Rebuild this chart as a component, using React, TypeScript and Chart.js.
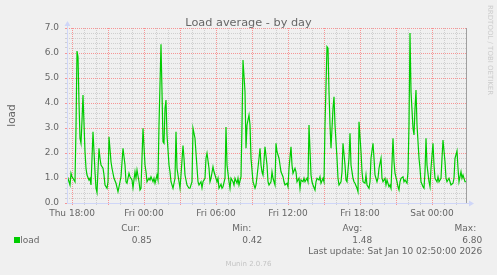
import React, { useEffect, useRef } from 'react';
import { Chart, registerables } from 'chart.js';

Chart.register(...registerables);

// Time in minutes since Thu 00:00 (5-minute samples)
const MINUTES = [
  1055, 1060, 1065, 1070, 1075, 1080, 1085, 1095, 1100, 1105,
  1110, 1115, 1120, 1125, 1130, 1135, 1145, 1150, 1155, 1165,
  1170, 1175, 1185, 1195, 1200, 1205, 1215, 1220, 1225, 1235,
  1240, 1245, 1255, 1260, 1265, 1275, 1280, 1290, 1300, 1310,
  1320, 1325, 1335, 1345, 1350, 1355, 1365,
  1370, 1380, 1385, 1395, 1400, 1405, 1415, 1420, 1425, 1435,
  1445, 1450, 1455, 1465, 1470, 1475, 1485, 1490, 1495, 1505,
  1510, 1515, 1525, 1530, 1535, 1540, 1545, 1550, 1555, 1565,
  1570, 1575, 1585, 1595, 1600, 1605, 1615, 1620, 1625, 1635,
  1640, 1645, 1655, 1665, 1670, 1680, 1685, 1695,
  1700, 1710, 1715, 1725, 1730, 1735, 1745, 1750, 1755, 1765,
  1770, 1775, 1785, 1790, 1795, 1805, 1810, 1815, 1825, 1830,
  1835, 1845, 1850, 1855, 1865, 1870, 1875, 1885, 1890, 1895,
  1905, 1910, 1915, 1925, 1930, 1935, 1945, 1950, 1955, 1965,
  1970, 1975, 1985, 1995, 2000, 2005, 2015, 2020, 2025,
  2030, 2035, 2045, 2055, 2060, 2065, 2075, 2080, 2085, 2095,
  2100, 2105, 2115, 2120, 2125, 2135, 2140, 2145, 2155, 2160,
  2165, 2175, 2180, 2185, 2195, 2200, 2205, 2215, 2220, 2225,
  2235, 2240, 2245, 2255, 2260, 2265, 2275, 2280, 2285, 2295,
  2300, 2305, 2315, 2320, 2325, 2335, 2340, 2345, 2355,
  2360, 2365, 2370, 2375, 2385, 2390, 2395, 2405, 2410, 2415,
  2425, 2430, 2435, 2445, 2450, 2455, 2465, 2470, 2475, 2485,
  2490, 2495, 2505, 2510, 2515, 2525, 2530, 2535, 2545, 2550,
  2555, 2565, 2570, 2575, 2585, 2590, 2595, 2605, 2610, 2615,
  2625, 2630, 2635, 2645, 2650, 2655, 2665, 2670, 2675, 2685,
  2690, 2695, 2705, 2710, 2715, 2720, 2725, 2735, 2740, 2745,
  2755, 2760, 2765, 2770, 2775, 2785, 2790, 2795, 2800, 2805,
  2815, 2820, 2825, 2835, 2840, 2845, 2850, 2855, 2865, 2870,
  2875, 2885, 2890, 2895, 2905, 2910, 2915, 2925, 2930, 2935,
  2945, 2950, 2955, 2965, 2970, 2975, 2985, 2990, 2995, 3005,
  3010, 3015, 3025, 3030, 3035, 3045, 3050,
];

const LOAD = [
  0.92, 0.99, 0.85, 0.72, 1.19, 1.05, 0.99, 0.85, 3.0, 6.08,
  5.85, 4.0, 2.59, 2.39, 3.3, 4.32, 2.05, 1.39, 1.12, 0.92,
  0.99, 0.72, 2.85, 1.25, 0.59, 0.42, 2.19, 1.79, 1.52, 1.39,
  1.12, 0.72, 0.59, 0.85, 2.65, 1.65, 1.39, 0.99, 0.79, 0.45,
  0.85, 1.05, 2.19, 1.52, 0.85, 0.79, 1.19,
  1.05, 0.92, 0.61, 1.25, 0.99, 1.32, 0.85, 0.52, 0.59, 2.99,
  1.52, 1.25, 0.85, 0.99, 0.92, 1.05, 0.85, 0.99, 0.79, 1.12,
  0.92, 3.12, 6.35, 4.45, 2.45, 2.39, 3.79, 4.12, 2.72, 1.52,
  1.25, 0.85, 0.59, 0.99, 2.85, 1.39, 0.85, 0.59, 1.12, 2.3,
  1.79, 1.12, 0.72, 0.59, 0.59, 0.85, 2.99, 2.59,
  2.0, 0.85, 0.72, 0.85, 0.61, 0.85, 0.99, 1.79, 1.99, 1.39,
  0.85, 0.99, 1.45, 1.25, 1.12, 0.85, 0.99, 0.59, 0.75, 0.59,
  0.65, 0.99, 3.04, 1.52, 0.85, 0.59, 0.99, 0.85, 0.72, 0.99,
  0.79, 0.99, 0.72, 1.05, 3.12, 5.72, 4.45, 2.19, 3.12, 3.52,
  3.12, 1.79, 0.85, 0.59, 0.72, 1.05, 1.79, 2.19, 1.52,
  1.25, 1.12, 2.25, 1.52, 0.85, 0.72, 0.85, 1.25, 0.99, 0.72,
  2.39, 2.05, 1.79, 1.52, 1.25, 1.05, 0.85, 0.72, 0.79, 0.65,
  1.39, 2.25, 1.52, 1.19, 1.39, 1.25, 0.85, 0.99, 0.59, 0.92,
  0.85, 0.99, 0.85, 0.99, 0.85, 3.12, 1.12, 0.85, 0.72, 0.52,
  0.85, 0.99, 0.92, 1.05, 0.79, 0.99, 0.85, 3.12, 6.25,
  6.19, 4.45, 3.12, 2.19, 3.79, 4.25, 3.12, 1.79, 0.99, 0.72,
  0.85, 1.25, 2.39, 1.52, 0.92, 0.85, 1.79, 2.79, 1.52, 0.99,
  0.85, 0.79, 0.59, 0.45, 3.25, 2.05, 1.25, 0.85, 0.79, 1.12,
  0.72, 0.59, 0.85, 1.79, 2.39, 1.79, 1.12, 0.85, 0.99, 1.39,
  1.79, 0.99, 0.85, 0.99, 0.72, 0.92, 0.65, 0.72, 0.59, 2.59,
  1.65, 1.19, 0.85, 0.65, 0.52, 0.85, 0.99, 1.05, 0.85, 0.92,
  0.79, 1.25, 3.12, 6.80, 4.45, 2.99, 2.72, 3.79, 4.52, 3.12,
  1.79, 1.39, 0.85, 0.65, 0.59, 1.25, 2.59, 1.52, 0.85, 0.65,
  1.39, 2.39, 1.52, 0.99, 0.85, 1.05, 0.85, 0.99, 1.79, 2.52,
  1.65, 0.99, 0.85, 0.99, 0.85, 0.72, 0.79, 0.99, 1.79, 2.08,
  1.39, 0.85, 1.25, 0.99, 1.12, 0.85, 0.85,
];

const X_RANGE = [1055, 3055];
const X_TICK_MINUTES = [1080, 1440, 1800, 2160, 2520, 2880];
const X_TICK_LABELS = ['Thu 18:00', 'Fri 00:00', 'Fri 06:00', 'Fri 12:00', 'Fri 18:00', 'Sat 00:00'];
const Y_TICK_VALUES = [0, 1, 2, 3, 4, 5, 6, 7];
const Y_TICK_LABELS = ['0.0', '1.0', '2.0', '3.0', '4.0', '5.0', '6.0', '7.0'];

const TITLE = 'Load average - by day';
const Y_TITLE = 'load';
const SERIES_NAME = 'load';
const LEGEND_HEADERS = ['Cur:', 'Min:', 'Avg:', 'Max:'];
const LEGEND_VALUES = ['0.85', '0.42', '1.48', '6.80'];
const LAST_UPDATE = 'Last update: Sat Jan 10 02:50:00 2026';
const FOOTER = 'Munin 2.0.76';
const WATERMARK = 'RRDTOOL / TOBI OETIKER';

const W = 497;
const H = 275;
const FAMILY = "'DejaVu Sans', 'Liberation Sans', sans-serif";
const FONT_COLOR = '#666666';
const AXIS_COLOR = '#CFD6F8';
const LINE_COLOR = '#00CC00';
const GRID_MAJOR = 'rgba(255,0,0,0.38)';
const GRID_MINOR = 'rgba(150,150,150,0.36)';

const isXMajor = (v: number) => v % 180 === 0;
const isYMajor = (v: number) => Math.abs(v - Math.round(v)) < 1e-6;

export default function App() {
  const ref = useRef<HTMLCanvasElement>(null);

  useEffect(() => {
    const canvas = ref.current;
    if (!canvas) return;
    const n = Math.min(MINUTES.length, LOAD.length);
    const points = [];
    for (let i = 0; i < n; i++) points.push({ x: MINUTES[i], y: LOAD[i] });

    const decor = {
      id: 'muninDecor',
      beforeDraw(chart: any) {
        const c = chart.ctx;
        c.save();
        c.fillStyle = '#F0F0F0';
        c.fillRect(0, 0, chart.width, chart.height);
        c.restore();
      },
      beforeDatasetsDraw(chart: any) {
        // dotted grid, 1 on / 1 off, positioned by the chart's own scales
        const c = chart.ctx as CanvasRenderingContext2D;
        const a = chart.chartArea;
        const xs = chart.scales.x;
        const ys = chart.scales.y;
        c.save();
        c.lineWidth = 1;
        c.setLineDash([1, 1]);
        const drawPass = (major: boolean) => {
          c.strokeStyle = major ? GRID_MAJOR : GRID_MINOR;
          c.beginPath();
          xs.ticks.forEach((t: any) => {
            if (isXMajor(t.value) !== major) return;
            const px = Math.round(xs.getPixelForValue(t.value)) + 0.5;
            c.moveTo(px, a.bottom);
            c.lineTo(px, a.top);
          });
          ys.ticks.forEach((t: any) => {
            if (Math.abs(t.value) < 1e-6) return;
            if (isYMajor(t.value) !== major) return;
            const py = Math.round(ys.getPixelForValue(t.value)) + 0.5;
            c.moveTo(a.left, py);
            c.lineTo(a.right, py);
          });
          c.stroke();
        };
        drawPass(false);
        drawPass(true);
        c.restore();
      },
      afterDraw(chart: any) {
        const c = chart.ctx as CanvasRenderingContext2D;
        const a = chart.chartArea;
        c.save();
        // right frame line
        c.strokeStyle = '#A0A0A0';
        c.lineWidth = 1;
        c.beginPath();
        c.moveTo(Math.round(a.right) - 0.5, a.top);
        c.lineTo(Math.round(a.right) - 0.5, a.bottom);
        c.stroke();
        // axes with arrows
        c.strokeStyle = AXIS_COLOR;
        c.fillStyle = AXIS_COLOR;
        const ax = Math.round(a.left) + 0.5;
        const ay = Math.round(a.bottom) + 0.5;
        c.beginPath();
        c.moveTo(ax, ay);
        c.lineTo(ax, a.top - 3);
        c.moveTo(ax, ay);
        c.lineTo(a.right + 3, ay);
        c.stroke();
        c.beginPath();
        c.moveTo(ax, a.top - 7);
        c.lineTo(ax - 3, a.top - 2);
        c.lineTo(ax + 3, a.top - 2);
        c.closePath();
        c.fill();
        c.beginPath();
        c.moveTo(a.right + 7, ay);
        c.lineTo(a.right + 2, ay - 3);
        c.lineTo(a.right + 2, ay + 3);
        c.closePath();
        c.fill();

        // title
        c.fillStyle = FONT_COLOR;
        c.font = `11.3px ${FAMILY}`;
        c.textAlign = 'center';
        c.textBaseline = 'alphabetic';
        c.fillText(TITLE, W / 2, 26);

        // legend
        c.font = `9px ${FAMILY}`;
        c.textAlign = 'right';
        const headerX = [139.7, 251.3, 362.3, 476.2];
        const valueX = [151.7, 262.3, 372.3, 482.3];
        LEGEND_HEADERS.forEach((t, i) => c.fillText(t, headerX[i], 230.6));
        LEGEND_VALUES.forEach((t, i) => c.fillText(t, valueX[i], 243.2));
        c.fillText(LAST_UPDATE, 482.3, 254.2);
        c.fillStyle = LINE_COLOR;
        c.fillRect(14, 237, 6, 6);
        c.fillStyle = FONT_COLOR;
        c.textAlign = 'left';
        c.fillText(SERIES_NAME, 20.3, 243.2);

        // footer
        c.fillStyle = '#C4C4C4';
        c.font = `7px ${FAMILY}`;
        c.textAlign = 'center';
        c.fillText(FOOTER, W / 2, 265.5);

        // watermark
        c.save();
        c.translate(490, 5);
        c.rotate(Math.PI / 2);
        c.fillStyle = '#CCCCCC';
        c.font = `7px ${FAMILY}`;
        c.textAlign = 'left';
        c.textBaseline = 'middle';
        c.fillText(WATERMARK, 0, 0);
        c.restore();
        c.restore();
      },
    };

    const chart = new Chart(canvas, {
      type: 'line',
      data: {
        datasets: [
          {
            label: SERIES_NAME,
            data: points,
            borderColor: LINE_COLOR,
            borderWidth: 1.2,
            pointRadius: 0,
            fill: false,
            tension: 0,
          },
        ],
      },
      options: {
        animation: false,
        responsive: false,
        devicePixelRatio: 1,
        layout: { padding: { left: 0, top: 28, right: 30, bottom: 0 } },
        plugins: {
          legend: { display: false },
          tooltip: { enabled: false },
          title: { display: false },
        },
        scales: {
          x: {
            type: 'linear',
            min: X_RANGE[0],
            max: X_RANGE[1],
            afterFit: (s: any) => {
              s.height = 72;
            },
            afterBuildTicks: (s: any) => {
              const t = [];
              for (let m = X_TICK_MINUTES[0]; m < X_RANGE[1]; m += 60) t.push({ value: m });
              s.ticks = t;
            },
            ticks: {
              autoSkip: false,
              maxRotation: 0,
              padding: 3,
              color: FONT_COLOR,
              font: { family: FAMILY, size: 9 },
              callback: (v: any) => {
                const i = X_TICK_MINUTES.indexOf(Number(v));
                return i >= 0 ? X_TICK_LABELS[i] : '';
              },
            },
            grid: {
              drawOnChartArea: false,
              drawTicks: true,
              color: (ctx: any) => (ctx.tick && isXMajor(ctx.tick.value) ? GRID_MAJOR : GRID_MINOR),
              lineWidth: 1,
              tickLength: 2,
            },
            border: { display: false },
          },
          y: {
            type: 'linear',
            min: 0,
            max: 7,
            afterFit: (s: any) => {
              s.width = 67;
            },
            afterBuildTicks: (s: any) => {
              const t = [];
              for (let k = 0; k <= 35; k++) t.push({ value: k / 5 });
              s.ticks = t;
            },
            ticks: {
              autoSkip: false,
              padding: 6,
              color: FONT_COLOR,
              font: { family: FAMILY, size: 9 },
              callback: (v: any) => {
                const i = Y_TICK_VALUES.findIndex((y) => Math.abs(y - Number(v)) < 1e-6);
                return i >= 0 ? Y_TICK_LABELS[i] : '';
              },
            },
            grid: {
              drawOnChartArea: false,
              drawTicks: true,
              color: (ctx: any) => {
                const v = ctx.tick ? ctx.tick.value : 0;
                return isYMajor(v) ? GRID_MAJOR : GRID_MINOR;
              },
              lineWidth: 1,
              tickLength: 2,
            },
            border: { display: false },
            title: {
              display: true,
              text: Y_TITLE,
              color: FONT_COLOR,
              font: { family: FAMILY, size: 10.5 },
              padding: { top: 6, bottom: 0 },
            },
          },
        },
      },
      plugins: [decor],
    } as any);

    return () => chart.destroy();
  }, []);

  return (
    <div style={{ position: 'absolute', left: 0, top: 0, width: W, height: H, background: '#F0F0F0' }}>
      <canvas ref={ref} width={W} height={H} style={{ display: 'block', width: W, height: H }} />
    </div>
  );
}
